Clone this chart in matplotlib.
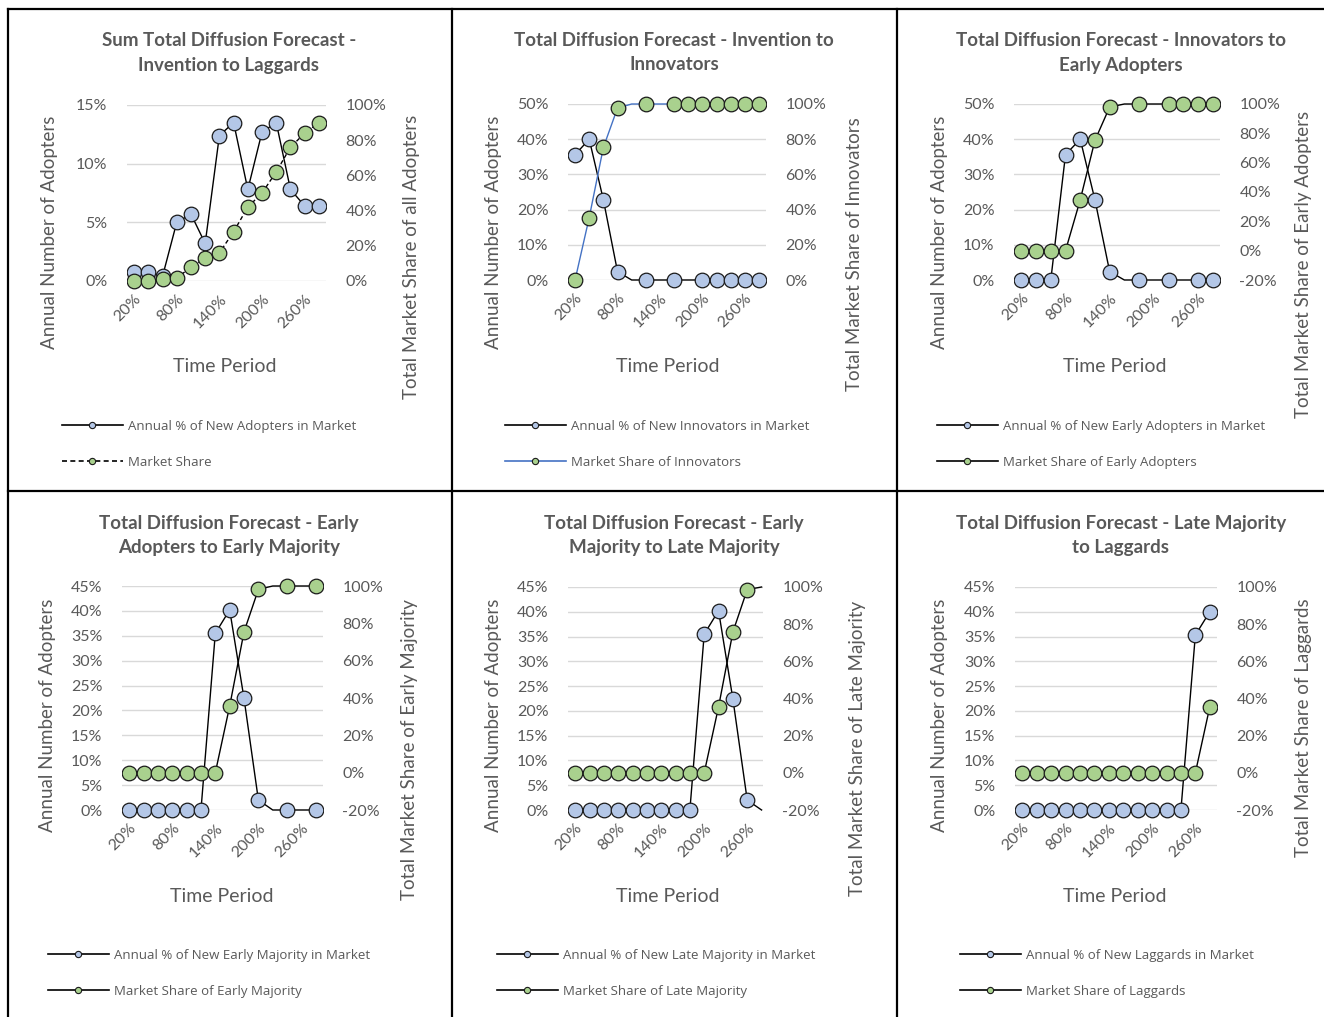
import matplotlib
matplotlib.use("Agg")
import matplotlib.pyplot as plt
from matplotlib.lines import Line2D
from matplotlib.patches import Rectangle
from matplotlib.ticker import FuncFormatter

plt.rcParams['font.family'] = ['Lato', 'DejaVu Sans']

W, H = 1324, 1017

# time period categories (20% .. 280%)
periods = ['20%', '40%', '60%', '80%', '100%', '120%', '140%',
           '160%', '180%', '200%', '220%', '240%', '260%', '280%']

# annual % of new adopters (left axis, in %)
annual_all = [0.8, 0.8, 0.4, 5.0, 5.7, 3.2, 12.4, 13.5, 7.8, 12.7, 13.5, 7.8, 6.4, 6.4]
annual_innov = [35.6, 40.0, 22.8, 2.4, 0, 0, 0, 0, 0, 0, 0, 0, 0, 0]
annual_early_ad = [0, 0, 0, 35.6, 40.0, 22.8, 2.4, 0, 0, 0, 0, 0, 0, 0]
annual_early_maj = [0, 0, 0, 0, 0, 0, 35.5, 40.2, 22.4, 2.0, 0, 0, 0, 0]
annual_late_maj = [0, 0, 0, 0, 0, 0, 0, 0, 0, 35.5, 40.2, 22.4, 2.0, 0]
annual_laggards = [0, 0, 0, 0, 0, 0, 0, 0, 0, 0, 0, 0, 35.3, 40.0]

# total market share (right axis, in %)
share_all = [0.2, 0.2, 1.0, 1.5, 8, 13, 16, 28, 42, 50, 62, 76, 84, 90]
share_innov = [0, 35.5, 75.3, 97.7, 100, 100, 100, 100, 100, 100, 100, 100, 100, 100]
share_early_ad = [0, 0, 0, 0, 34.6, 75.2, 97.9, 100, 100, 100, 100, 100, 100, 100]
share_early_maj = [0, 0, 0, 0, 0, 0, 0, 35.7, 75.5, 98.2, 100, 100, 100, 100]
share_late_maj = [0, 0, 0, 0, 0, 0, 0, 0, 0, 0, 35.5, 75.8, 98.6, 100]
share_laggards = [0, 0, 0, 0, 0, 0, 0, 0, 0, 0, 0, 0, 0, 35.5]

titles = ['Sum Total Diffusion Forecast -\nInvention to Laggards',
          'Total Diffusion Forecast - Invention to\nInnovators',
          'Total Diffusion Forecast - Innovators to\nEarly Adopters',
          'Total Diffusion Forecast - Early\nAdopters to Early Majority',
          'Total Diffusion Forecast - Early\nMajority to Late Majority',
          'Total Diffusion Forecast - Late Majority\nto Laggards']
right_labels = ['Total Market Share of all Adopters',
                'Total Market Share of Innovators',
                'Total Market Share of Early Adopters',
                'Total Market Share of Early Majority',
                'Total Market Share of Late Majority',
                'Total Market Share of Laggards']
legend_annual = ['Annual % of New Adopters in Market',
                 'Annual % of New Innovators in Market',
                 'Annual % of New Early Adopters in Market',
                 'Annual % of New Early Majority in Market',
                 'Annual % of New Late Majority in Market',
                 'Annual % of New Laggards in Market']
legend_share = ['Market Share', 'Market Share of Innovators',
                'Market Share of Early Adopters', 'Market Share of Early Majority',
                'Market Share of Late Majority', 'Market Share of Laggards']

annual = [annual_all, annual_innov, annual_early_ad, annual_early_maj,
          annual_late_maj, annual_laggards]
share = [share_all, share_innov, share_early_ad, share_early_maj,
         share_late_maj, share_laggards]

# layout, in pixels of the reference
plot_boxes = [(127, 105, 326, 281), (568, 104, 766, 280), (1014, 104, 1220, 280),
              (122, 586, 323, 810), (568, 587, 763, 810), (1015, 587, 1217, 810)]
left_lims = [(0, 15, 5), (0, 50, 10), (0, 50, 10), (0, 45, 5), (0, 45, 5), (0, 45, 5)]
right_lims = [(0, 100), (0, 100), (-20, 100), (-20, 100), (-20, 100), (-20, 100)]
xmax = [13.5, 13.5, 13.5, 13.5, 13.1, 13.5]
# markers Excel did not draw
hidden_annual = [[], [4, 6, 8], [7, 9, 11], [10, 12], [13], []]
hidden_share = [[], [4, 6], [7, 9], [10, 12], [13], []]
title_pos = [(229, 53), (674, 53), (1121, 53), (229, 535), (674, 535), (1121, 535)]
left_label_pos = [(50, 232), (494, 232), (940, 232), (48, 715), (494, 715), (940, 715)]
right_label_pos = [(412, 257), (855, 254), (1304, 264), (410, 750), (857, 748), (1303, 728)]
xlabel_pos = [(225, 367), (668, 366), (1115, 366), (222, 896), (668, 896), (1115, 896)]
legend_pos = [(62, 426), (505, 426), (937, 426), (48, 955), (497, 955), (960, 955)]

GRAY = '#595959'
BLUE_FILL = '#B4C7E7'
GREEN_FILL = '#A9D18E'
EDGE = '#1A1A1A'

fig = plt.figure(figsize=(W / 100, H / 100), dpi=100)


def fx(x):
    return x / W


def fy(y):
    return 1 - y / H


pct = FuncFormatter(lambda v, p: '{:.0f}%'.format(v))

for i in range(6):
    x0, y0, x1, y1 = plot_boxes[i]
    ax = fig.add_axes([fx(x0), fy(y1), (x1 - x0) / W, (y1 - y0) / H])
    ax2 = ax.twinx()
    xs = list(range(len(periods)))

    lo, hi, step = left_lims[i]
    ax.set_ylim(lo, hi)
    ax.set_yticks(range(lo, hi + 1, step))
    ax.yaxis.set_major_formatter(pct)
    ax.grid(axis='y', color='#D9D9D9', lw=1.0)
    ax.set_axisbelow(True)
    ax.set_xlim(-0.5, xmax[i])
    ax.set_xticks(xs[::3])
    ax.set_xticklabels(periods[::3], rotation=45, ha='right', rotation_mode='anchor')
    rlo, rhi = right_lims[i]
    ax2.set_ylim(rlo, rhi)
    ax2.set_yticks(range(rlo, rhi + 1, 20))
    ax2.yaxis.set_major_formatter(pct)

    for a in (ax, ax2):
        for s in a.spines.values():
            s.set_visible(False)
        a.tick_params(length=0, labelsize=11.5, labelcolor=GRAY)
    ax.tick_params(axis='y', pad=14)
    ax2.tick_params(axis='y', pad=14)
    ax.tick_params(axis='x', pad=8)

    show_a = [k for k in xs if k not in hidden_annual[i]]
    show_s = [k for k in xs if k not in hidden_share[i]]
    l1, = ax.plot(xs, annual[i], color='black', lw=1.0, marker='o', ms=10.5,
                  mfc=BLUE_FILL, mec=EDGE, mew=0.9, markevery=show_a)
    share_color = '#4472C4' if i == 1 else 'black'
    share_ls = (0, (3, 2)) if i == 0 else '-'
    l2, = ax2.plot(xs, share[i], color=share_color, lw=1.0, ls=share_ls, marker='o',
                   ms=10.5, mfc=GREEN_FILL, mec=EDGE, mew=0.9, markevery=show_s)
    # clip only left/right so markers at the top and bottom stay whole
    clip1 = Rectangle((0, -0.2), 1, 1.4, transform=ax.transAxes, visible=False)
    clip2 = Rectangle((0, -0.2), 1, 1.4, transform=ax2.transAxes, visible=False)
    ax.add_patch(clip1)
    ax2.add_patch(clip2)
    l1.set_clip_path(clip1)
    l2.set_clip_path(clip2)

    tx, ty = title_pos[i]
    fig.text(fx(tx), fy(ty), titles[i], ha='center', va='center', fontsize=13.5,
             fontweight='bold', color=GRAY, linespacing=1.5)
    lx, ly = left_label_pos[i]
    fig.text(fx(lx), fy(ly), 'Annual Number of Adopters', rotation=90, ha='center',
             va='center', fontsize=13.5, color=GRAY)
    rx, ry = right_label_pos[i]
    fig.text(fx(rx), fy(ry), right_labels[i], rotation=90, ha='center',
             va='center', fontsize=13.5, color=GRAY)
    bx, by = xlabel_pos[i]
    fig.text(fx(bx), fy(by), 'Time Period', ha='center', va='center',
             fontsize=14, color=GRAY)

    h1 = Line2D([], [], color='black', lw=1.2, marker='o', ms=4.5,
                mfc=BLUE_FILL, mec=EDGE, mew=0.8)
    h2 = Line2D([], [], color=share_color, lw=1.2, ls=share_ls, marker='o', ms=4.5,
                mfc=GREEN_FILL, mec=EDGE, mew=0.8)
    gx, gy = legend_pos[i]
    leg = fig.legend([h1, h2], [legend_annual[i], legend_share[i]], loc='upper left',
                     bbox_to_anchor=(fx(gx), fy(gy - 6)), frameon=False,
                     borderpad=0, borderaxespad=0, handlelength=4.6,
                     handletextpad=0.4, labelspacing=1.75,
                     prop={'family': ['Open Sans', 'DejaVu Sans'], 'size': 9.5})
    for t in leg.get_texts():
        t.set_color(GRAY)

# panel borders
border = dict(color='black', lw=1.6, transform=fig.transFigure)
fig.add_artist(Line2D([fx(8), 1], [fy(8.5), fy(8.5)], **border))
fig.add_artist(Line2D([fx(8), 1], [fy(491), fy(491)], **border))
for x in (8, 452, 897):
    fig.add_artist(Line2D([fx(x), fx(x)], [fy(8.5), 0], **border))

fig.savefig('out.png', dpi=100)
